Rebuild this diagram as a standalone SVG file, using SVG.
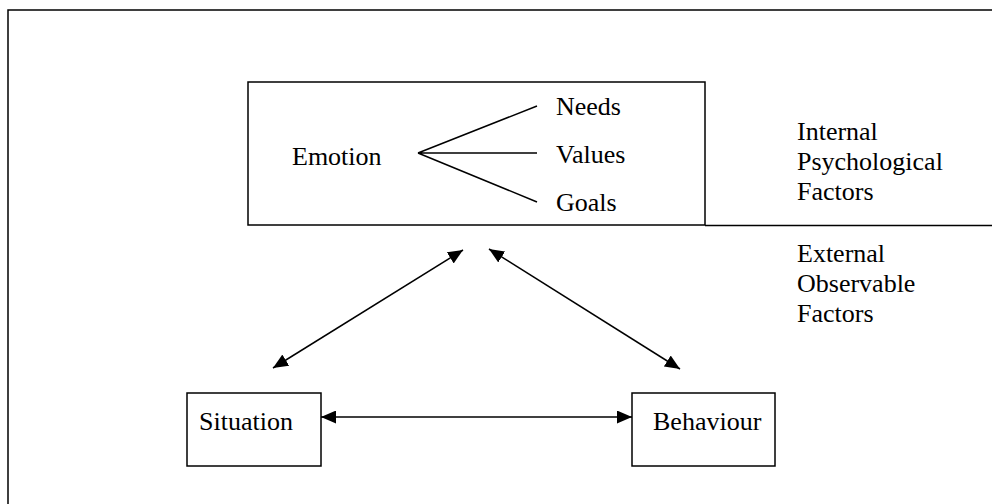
<svg xmlns="http://www.w3.org/2000/svg" width="992" height="504" viewBox="0 0 992 504">
<style>
text{font-family:"Liberation Serif","Times New Roman",serif;font-size:26px;fill:#000}
.box{fill:#fff;stroke:#000;stroke-width:1.5}
.ln{stroke:#000;stroke-width:1.5;fill:none}
.arr{stroke:#000;stroke-width:1.5;fill:none;marker-start:url(#ah);marker-end:url(#ah)}
</style>
<defs>
<marker id="ah" viewBox="0 0 15 13" refX="15" refY="6.5" markerWidth="15" markerHeight="13" markerUnits="userSpaceOnUse" orient="auto-start-reverse">
<path d="M0,0 L15,6.5 L0,13 Z" fill="#000"/>
</marker>
</defs>
<rect width="992" height="504" fill="#fff"/>
<path class="ln" d="M8,504 V10 H992" stroke-width="2" stroke="#111"/>
<g id="emotion">
<rect class="box" x="248" y="82" width="457" height="143"/>
<text x="292" y="165">Emotion</text>
<path class="ln" d="M418,153 L537,106 M418,153 L537,153 M418,153 L537,202"/>
<text x="556" y="115">Needs</text>
<text x="556" y="163">Values</text>
<text x="556" y="211">Goals</text>
</g>
<g id="divider">
<path class="ln" d="M705,225.5 H777 M970,225.5 H992" stroke-width="2"/>
<path class="ln" d="M777,225.5 H970" stroke="#444" stroke-width="1.5"/>
</g>
<g id="internal">
<text x="797" y="140">Internal</text>
<text x="797" y="170">Psychological</text>
<text x="797" y="200">Factors</text>
</g>
<g id="external">
<text x="797" y="262">External</text>
<text x="797" y="292">Observable</text>
<text x="797" y="322">Factors</text>
</g>
<g id="situation">
<rect class="box" x="187" y="393" width="134" height="73"/>
<text x="199" y="430">Situation</text>
</g>
<g id="behaviour">
<rect class="box" x="632" y="393" width="143" height="73"/>
<text x="653" y="430">Behaviour</text>
</g>
<g id="connectors">
<path class="arr" d="M273,368 L463,250"/>
<path class="arr" d="M680,369 L489,249"/>
<path class="arr" d="M321,417 L632,417"/>
</g>
</svg>
